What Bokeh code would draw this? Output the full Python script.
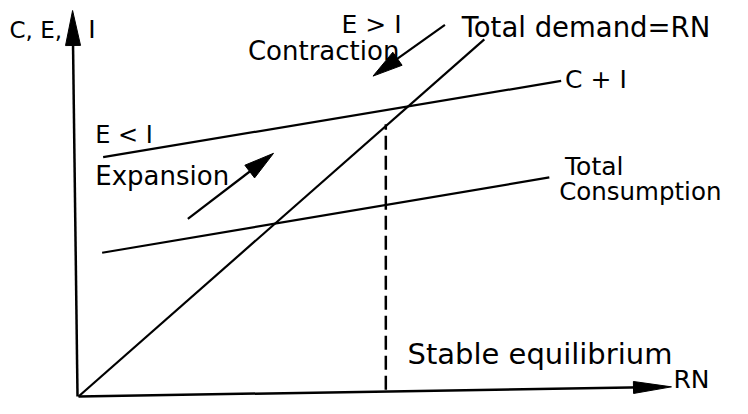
import math
from bokeh.plotting import figure
from bokeh.models import Range1d
from bokeh.core.properties import value
from bokeh.embed import file_html
from bokeh.resources import INLINE

# ---- data (diagram units) ----
yaxis_x = [-0.025, -0.15]
yaxis_y = [0.0, 10.0]
xaxis_x = [0.0, 15.05]
xaxis_y = [0.0, 0.25]

demand_x = [0.0, 10.3]          # Total demand = RN
demand_y = [0.0, 9.25]
ci_x = [0.625, 12.25]           # C + I
ci_y = [6.2, 8.175]
cons_x = [0.6, 11.95]           # Total Consumption
cons_y = [3.725, 5.675]
equil_x = [7.8, 7.8]            # stable equilibrium
equil_y = [0.175, 7.05]

expansion_arrow = [2.775, 4.6, 4.95, 6.3]
contraction_arrow = [9.3, 9.625, 7.475, 8.3]

label_text = ["C, E,", "I", "E > I", "Contraction", "Total demand=RN", "C + I",
              "E < I", "Expansion", "Total", "Consumption", "Stable equilibrium", "RN"]
label_x = [-1.75, 0.25, 6.675, 4.3, 9.725, 12.35, 0.425, 0.425, 12.35, 12.2, 8.35, 15.1]
label_y = [9.5, 9.5, 9.65, 8.95, 9.575, 8.225, 6.775, 5.725, 5.95, 5.3, 1.1, 0.45]
label_size = ["23px", "25px", "25px", "26px", "27.5px", "25px",
              "24px", "26px", "25px", "24.5px", "29px", "25px"]

# ---- figure ----
W, H = 732, 398
SX, SY = 39.4, 38.6
x0 = -78 / SX
x1 = x0 + W / SX
y0 = -(H - 396) / SY
y1 = y0 + H / SY

p = figure(width=W, height=H, x_range=Range1d(x0, x1), y_range=Range1d(y0, y1),
           output_backend="svg", toolbar_location=None,
           x_axis_location=None, y_axis_location=None, min_border=0)
p.grid.visible = False
p.outline_line_color = None
p.background_fill_color = "white"
p.border_fill_color = "white"


def head(xa, ya, xb, yb, L, Wd):
    dx = (xb - xa) * SX
    dy = (yb - ya) * SY
    d = math.hypot(dx, dy)
    ux, uy = dx / d, dy / d
    nx, ny = -uy, ux
    bx = xb - L * ux / SX
    by = yb - L * uy / SY
    xs = [xb, bx + Wd * nx / SX, bx - Wd * nx / SX]
    ys = [yb, by + Wd * ny / SY, by - Wd * ny / SY]
    return xs, ys, bx, by


def arrow(xa, ya, xb, yb, L, Wd, lw):
    hx, hy, bx, by = head(xa, ya, xb, yb, L, Wd)
    p.line([xa, bx + (xb - bx) * 0.3], [ya, by + (yb - by) * 0.3], line_color="black", line_width=lw)
    p.patch(hx, hy, fill_color="black", line_color="black", line_width=1)


# axes
arrow(yaxis_x[0], yaxis_y[0], yaxis_x[1], yaxis_y[1], 35, 7.5, 2.5)
arrow(xaxis_x[0], xaxis_y[0], xaxis_x[1], xaxis_y[1], 38, 6, 2.5)

# curves
p.line(demand_x, demand_y, line_color="black", line_width=2.2)
p.line(ci_x, ci_y, line_color="black", line_width=2.2)
p.line(cons_x, cons_y, line_color="black", line_width=2.2)
p.line(equil_x, equil_y, line_color="black", line_width=2.5, line_dash="14 6")

# direction arrows
arrow(*expansion_arrow, 30, 8, 2.2)
arrow(*contraction_arrow, 30, 8, 2.2)

p.text(x=label_x, y=label_y, text=label_text, text_font=value("DejaVu Sans"),
       text_font_size=label_size, text_baseline="middle", text_align="left", text_color="black")

open("out.html", "w").write(file_html(p, INLINE))
